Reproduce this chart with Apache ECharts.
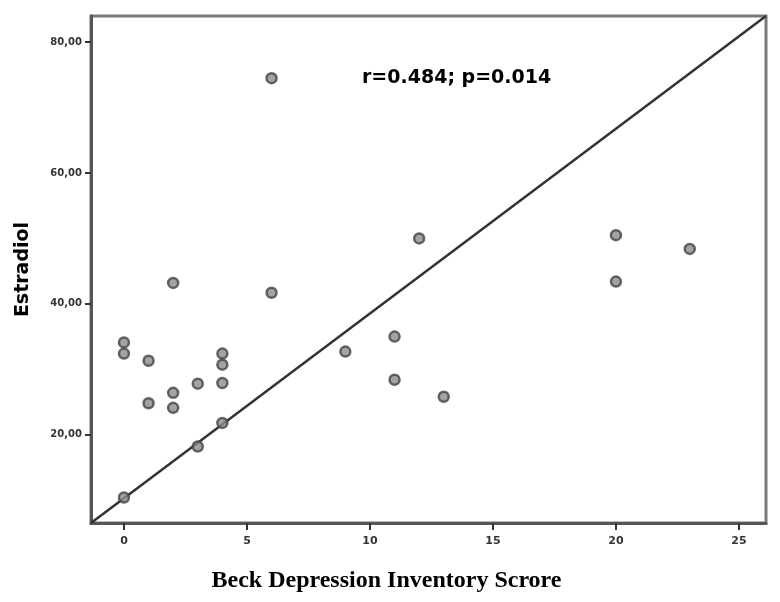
<!DOCTYPE html>
<html>
<head>
<meta charset="utf-8">
<script src="https://cdn.jsdelivr.net/npm/echarts@6/dist/echarts.min.js"></script>
<style>
  html, body { margin: 0; padding: 0; background: #fff; }
  #main { width: 780px; height: 602px; }
</style>
</head>
<body>
<div id="main"></div>
<script>
// data
var bdiScore = [0, 0, 0, 1, 1, 2, 2, 2, 3, 3, 4, 4, 4, 4, 6, 6, 9, 11, 11, 12, 13, 20, 20, 23];
var estradiol = [34.1, 32.4, 10.4, 31.3, 24.8, 43.2, 26.4, 24.1, 27.8, 18.2, 32.4, 30.7, 27.9, 21.8, 74.5, 41.7, 32.7, 35.0, 28.4, 50.0, 25.8, 50.5, 43.4, 48.4];
var xTicks = [0, 5, 10, 15, 20, 25];
var yTicks = [20, 40, 60, 80];
// fit line (intercept, slope)
var fitLine = [10.28, 2.824];
var xRange = [-1.34, 26.1];
var yRange = [6.5, 84];

var points = bdiScore.map(function (x, i) { return [x, estradiol[i]]; });
var linePts = xRange.map(function (x) { return [x, fitLine[0] + fitLine[1] * x]; });

var myChart = echarts.init(document.getElementById('main'));

var option = {
  backgroundColor: '#fff',
  animation: false,
  grid: {
    left: 91, right: 14, top: 16, bottom: 79,
    show: true, borderColor: '#7a7a7a', borderWidth: 3
  },
  xAxis: {
    type: 'value',
    min: xRange[0], max: xRange[1],
    name: 'Beck Depression Inventory Scrore',
    nameLocation: 'middle',
    nameGap: 46,
    nameTextStyle: {
      fontFamily: 'Liberation Serif', fontWeight: 'bold', fontSize: 24,
      color: '#000', padding: [0, 84, 0, 0]
    },
    axisLine: { onZero: false, lineStyle: { color: '#555', width: 3 } },
    axisTick: { customValues: xTicks, length: 7, lineStyle: { color: '#333', width: 2 } },
    axisLabel: {
      customValues: xTicks, margin: 13,
      fontFamily: 'DejaVu Sans', fontWeight: 'bold', fontSize: 11, color: '#333'
    },
    splitLine: { show: false }
  },
  yAxis: {
    type: 'value',
    min: yRange[0], max: yRange[1],
    name: 'Estradiol',
    nameLocation: 'middle',
    nameGap: 58,
    nameRotate: 90,
    nameTextStyle: {
      fontFamily: 'DejaVu Sans', fontWeight: 'bold', fontSize: 19, color: '#000'
    },
    axisLine: { show: true, onZero: false, lineStyle: { color: '#555', width: 3 } },
    axisTick: { show: true, customValues: yTicks, length: 6, lineStyle: { color: '#333', width: 2 } },
    axisLabel: {
      customValues: yTicks, margin: 9,
      fontFamily: 'DejaVu Sans', fontWeight: 'bold', fontSize: 10, color: '#333',
      formatter: function (v) { return v.toFixed(2).replace('.', ','); }
    },
    splitLine: { show: false }
  },
  series: [
    {
      type: 'line',
      data: linePts,
      symbol: 'none',
      lineStyle: { color: '#333', width: 2.5 },
      z: 2
    },
    {
      type: 'scatter',
      data: points,
      symbol: 'circle',
      symbolSize: 10,
      itemStyle: { color: '#8c8c8c', borderColor: '#444', borderWidth: 2.5 },
      z: 3
    }
  ],
  graphic: [
    {
      type: 'text',
      left: 362, top: 69,
      style: {
        text: 'r=0.484; p=0.014',
        font: 'bold 19px "DejaVu Sans"',
        fill: '#000'
      }
    }
  ]
};

myChart.setOption(option);
</script>
</body>
</html>
